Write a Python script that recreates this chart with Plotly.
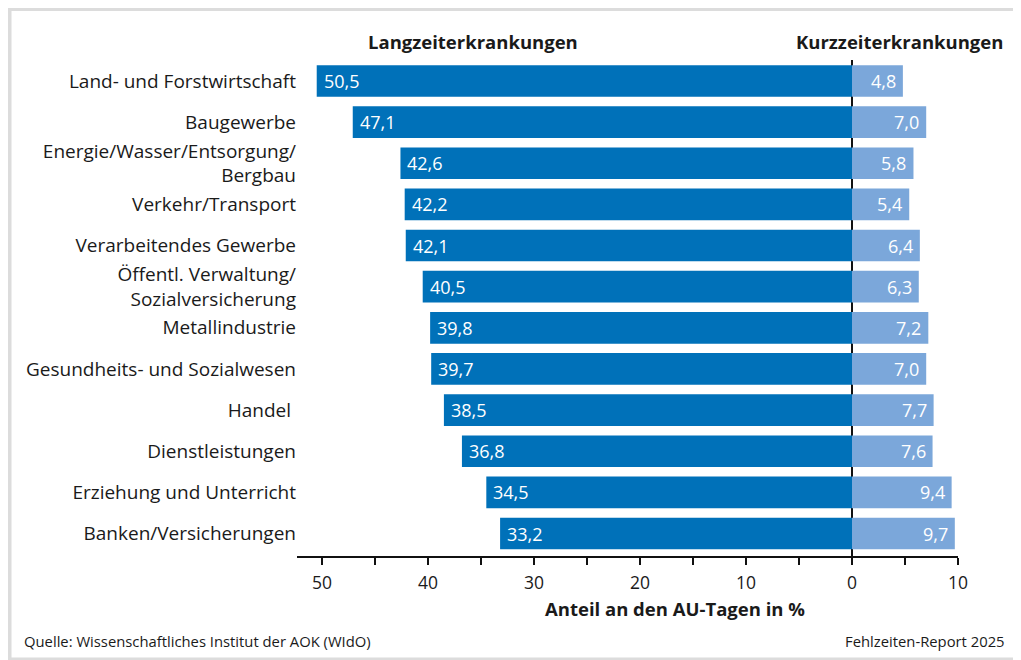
import plotly.graph_objects as go

categories = [
    "Land- und Forstwirtschaft",
    "Baugewerbe",
    "Energie/Wasser/Entsorgung/<br>Bergbau",
    "Verkehr/Transport",
    "Verarbeitendes Gewerbe",
    "Öffentl. Verwaltung/<br>Sozialversicherung",
    "Metallindustrie",
    "Gesundheits- und Sozialwesen",
    "Handel\u00a0",
    "Dienstleistungen",
    "Erziehung und Unterricht",
    "Banken/Versicherungen",
]
langzeit = [50.5, 47.1, 42.6, 42.2, 42.1, 40.5, 39.8, 39.7, 38.5, 36.8, 34.5, 33.2]
kurzzeit = [4.8, 7.0, 5.8, 5.4, 6.4, 6.3, 7.2, 7.0, 7.7, 7.6, 9.4, 9.7]
tick_values = [-50, -45, -40, -35, -30, -25, -20, -15, -10, -5, 0, 5, 10]
tick_labels = ["50", "", "40", "", "30", "", "20", "", "10", "", "0", "", "10"]

DARK = "#0071b9"
LIGHT = "#7ba7da"
TEXT = "#1a1a1a"
FONT = "Open Sans"

# page has an 8px body margin; figure coordinates = page coordinates - 8
OFF = 8
W, H = 1021 - OFF, 660 - OFF
L, R, T, B = 297 - OFF, 1021 - 958, 60 - OFF, 660 - 556
PW, PH = W - L - R, H - T - B

def px(x):
    return (x - OFF - L) / PW

def py(y):
    return (H - B - (y - OFF)) / PH

def fmt(v):
    return f"{v:.1f}".replace(".", ",")

idx = list(range(len(categories)))

fig = go.Figure()
fig.add_trace(go.Bar(
    y=idx, x=[-v for v in langzeit], orientation="h",
    marker=dict(color=DARK, line=dict(width=0)), width=0.77,
    name="Langzeiterkrankungen", hoverinfo="skip",
))
fig.add_trace(go.Bar(
    y=idx, x=kurzzeit, orientation="h",
    marker=dict(color=LIGHT, line=dict(width=0)), width=0.77,
    name="Kurzzeiterkrankungen", hoverinfo="skip",
))

annotations = []
for i, (lv, kv) in enumerate(zip(langzeit, kurzzeit)):
    annotations.append(dict(x=-lv, y=i, xref="x", yref="y", text=fmt(lv),
                            showarrow=False, xanchor="left", xshift=5,
                            font=dict(family=FONT, size=18, color="white")))
    annotations.append(dict(x=kv, y=i, xref="x", yref="y", text=fmt(kv),
                            showarrow=False, xanchor="right", xshift=-5,
                            font=dict(family=FONT, size=18, color="white")))

annotations += [
    dict(x=px(473), y=py(42), xref="paper", yref="paper", text="<b>Langzeiterkrankungen</b>",
         showarrow=False, xanchor="center", yanchor="middle",
         font=dict(family=FONT, size=18.5, color=TEXT)),
    dict(x=px(1005), y=py(42), xref="paper", yref="paper", text="<b>Kurzzeiterkrankungen</b>",
         showarrow=False, xanchor="right", yanchor="middle",
         font=dict(family=FONT, size=18.5, color=TEXT)),
    dict(x=px(675), y=py(608), xref="paper", yref="paper",
         text="<b>Anteil an den AU-Tagen in %</b>",
         showarrow=False, xanchor="center", yanchor="middle",
         font=dict(family=FONT, size=18.5, color=TEXT)),
    dict(x=px(22), y=py(641), xref="paper", yref="paper",
         text="Quelle: Wissenschaftliches Institut der AOK (WIdO)",
         showarrow=False, xanchor="left", yanchor="middle",
         font=dict(family=FONT, size=14.8, color=TEXT)),
    dict(x=px(1007), y=py(641), xref="paper", yref="paper",
         text="Fehlzeiten-Report 2025",
         showarrow=False, xanchor="right", yanchor="middle",
         font=dict(family=FONT, size=14.8, color=TEXT)),
]

frame = "#dcdcdc"
shapes = [
    dict(type="rect", xref="paper", yref="paper", x0=px(8), x1=px(1019), y0=py(8), y1=py(11),
         fillcolor=frame, line=dict(width=0), layer="below"),
    dict(type="rect", xref="paper", yref="paper", x0=px(8), x1=px(11.5), y0=py(8), y1=py(660),
         fillcolor=frame, line=dict(width=0), layer="below"),
    dict(type="rect", xref="paper", yref="paper", x0=px(1016), x1=px(1019), y0=py(8), y1=py(660),
         fillcolor=frame, line=dict(width=0), layer="below"),
    dict(type="rect", xref="paper", yref="paper", x0=px(8), x1=px(1019), y0=py(657.5), y1=py(660),
         fillcolor=frame, line=dict(width=0), layer="below"),
]

fig.update_layout(
    width=W, height=H,
    margin=dict(l=L, r=R, t=T, b=B, pad=0),
    paper_bgcolor="white", plot_bgcolor="white",
    barmode="overlay", showlegend=False,
    font=dict(family=FONT, size=18, color=TEXT),
    annotations=annotations, shapes=shapes,
    xaxis=dict(
        range=[-52.36, 10], tickvals=tick_values, ticktext=tick_labels,
        showgrid=False, zeroline=True, zerolinecolor="#111111", zerolinewidth=1.7,
        showline=True, linecolor="#111111", linewidth=2,
        ticks="outside", ticklen=7, tickwidth=1.5, tickcolor="#111111",
        tickfont=dict(family=FONT, size=17.5, color=TEXT),
        ticklabelstandoff=3,
        layer="above traces", fixedrange=True,
    ),
    yaxis=dict(
        range=[11.547, -0.51], tickvals=idx, ticktext=categories,
        showgrid=False, zeroline=False, showline=False, ticks="",
        tickfont=dict(family=FONT, size=19, color=TEXT),
        ticklabelstandoff=0, fixedrange=True,
    ),
)

fig.write_html("out.html")
